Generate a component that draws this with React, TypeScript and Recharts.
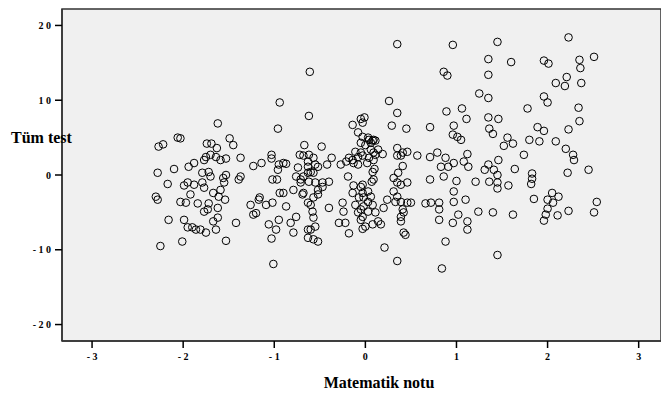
import { ScatterChart, Scatter, XAxis, YAxis, ReferenceArea } from "recharts"

// standardized scores: [matematik notu, tüm test]
const bandLow: [number, number][] = [
  [-2.27, 3.8], [-2.22, 4.1], [-2.06, 5.0], [-2.03, 4.9], [-1.62, 6.9], [-1.74, 4.2], [-1.69, 4.2],
  [-1.63, 3.6], [-1.49, 4.9], [-1.45, 4.0], [-1.75, 2.4], [-1.7, 2.7], [-1.64, 2.4], [-1.59, 2.0],
  [-1.53, 2.2], [-1.37, 2.3], [-1.77, 2.0], [-1.88, 1.6], [-1.94, 1.1], [-2.28, 0.3], [-2.1, 0.8],
  [-1.79, 0.3], [-1.72, 0.4], [-1.7, -0.2], [-1.53, 0.0], [-1.56, -0.4], [-1.55, -1.0], [-1.37, -0.2],
  [-1.39, -0.6], [-2.17, -1.2], [-1.99, -1.4], [-1.88, -1.3], [-1.79, -1.0], [-1.77, -1.7], [-1.59, -2.0],
  [-1.95, -1.0], [-2.3, -2.9], [-2.28, -3.3], [-2.03, -3.6], [-1.97, -3.7], [-1.92, -2.6], [-1.84, -3.8],
  [-1.72, -3.8], [-1.67, -2.4], [-1.61, -2.9], [-1.54, -3.3], [-1.77, -4.9], [-1.73, -4.6], [-1.62, -4.4],
  [-1.62, -5.7], [-1.67, -6.2], [-1.64, -7.3], [-2.16, -6.0], [-1.99, -6.0], [-1.95, -7.0], [-1.9, -7.0],
  [-1.86, -7.3], [-1.81, -7.3], [-1.75, -7.7], [-1.53, -8.8], [-1.42, -6.4], [-2.25, -9.5], [-2.01, -8.9],
  [-1.26, -4.0], [-1.2, -5.1], [-1.17, -3.3],
]

const bandMidLow: [number, number][] = [
  [-0.94, 9.7], [-0.62, 7.9], [-0.61, 13.8], [-0.96, 6.2], [-0.67, 4.0], [-0.48, 3.8], [-1.23, 1.2],
  [-1.14, 1.6], [-1.03, 2.7], [-1.03, 2.2], [-0.95, 1.4], [-0.9, 1.6], [-0.87, 1.5], [-0.96, 0.7],
  [-0.97, -0.6], [-1.02, -0.6], [-0.72, 2.7], [-0.62, 2.7], [-0.57, 2.3], [-0.63, 1.8], [-0.55, 1.4],
  [-0.63, 1.1], [-0.74, 1.0], [-0.71, -0.6], [-0.63, 0.3], [-0.6, 0.4], [-0.52, 1.1], [-0.76, -0.2],
  [-0.71, -1.0], [-0.62, -0.9], [-0.55, -1.0], [-0.47, -1.0], [-0.4, -0.9], [-0.52, -2.0], [-0.57, -3.0],
  [-0.79, -2.0], [-0.68, -2.4], [-0.94, -2.4], [-0.9, -2.4], [-1.16, -3.0], [-1.09, -4.0], [-1.02, -3.7],
  [-1.23, -5.3], [-0.87, -4.2], [-0.76, -5.6], [-0.82, -6.4], [-0.79, -7.7], [-0.95, -6.0], [-1.06, -6.6],
  [-1.03, -8.5], [-0.98, -7.3], [-0.63, -7.3], [-0.63, -8.4], [-0.69, -2.6], [-0.63, -3.7], [-0.6, -4.0],
  [-0.58, -4.9], [-0.57, -5.7], [-0.55, -6.9], [-0.6, -7.3], [-0.57, -8.6], [-0.52, -8.9], [-1.01, -11.9],
]

const bandMid: [number, number][] = [
  [-0.37, 2.3], [-0.42, 1.4], [-0.68, 2.6], [-0.57, 0.3], [-0.68, -0.2], [-0.47, -1.6], [-0.52, -2.6],
  [-0.27, 1.4], [-0.21, 1.8], [-0.18, 2.3], [-0.14, 2.0], [-0.13, 1.6], [-0.08, 2.4], [-0.05, 3.0],
  [-0.08, 1.4], [-0.11, 3.1], [0.0, 4.0], [0.04, 4.7], [0.06, 4.3], [0.09, 4.7], [-0.03, 5.1],
  [0.03, 5.0], [0.08, 4.6], [0.11, 4.6], [-0.05, 4.3], [-0.14, 6.7], [-0.05, 7.5], [-0.01, 7.7],
  [-0.03, 7.0], [-0.08, 5.7], [0.14, 3.4], [0.19, 2.8], [0.09, 3.0], [0.09, 2.0], [0.02, 1.6],
  [0.04, 2.3], [0.11, 2.7], [-0.03, 2.6], [-0.19, -0.2], [0.08, 0.4], [0.09, -0.6], [0.1, 0.8],
  [0.07, -0.9], [-0.4, -4.4], [-0.25, -3.7], [-0.24, -4.9], [-0.29, -6.4], [-0.22, -6.4], [-0.18, -7.8],
  [-0.13, -1.4], [-0.05, -1.6], [-0.03, -2.4], [-0.07, -3.0], [-0.02, -3.0], [0.03, -3.6], [0.08, -4.0],
  [-0.11, -4.0], [-0.14, -2.4], [-0.05, -4.6], [0.03, -4.9], [-0.08, -5.0], [-0.03, -5.6], [-0.03, -7.2],
  [0.0, -6.9], [0.08, -6.6], [0.11, -5.0], [0.14, -6.2], [-0.05, -6.0], [-0.03, -1.3], [0.03, -2.2],
  [-0.02, -4.2], [0.06, -2.9], [0.06, 3.4],
]

const bandMidHigh: [number, number][] = [
  [0.35, 17.5], [0.26, 9.9], [0.35, 8.3], [0.29, 6.6], [0.45, 6.2], [0.71, 6.4], [0.35, 3.6],
  [0.35, 2.6], [0.39, 2.6], [0.41, 3.0], [0.46, 3.1], [0.57, 2.6], [0.71, 2.4], [0.79, 3.0],
  [0.41, 1.2], [0.36, 0.3], [0.31, -0.4], [0.35, -1.0], [0.39, -1.3], [0.46, -1.0], [0.31, -2.2],
  [0.35, -2.9], [0.71, -0.6], [0.24, -3.3], [0.39, -3.6], [0.46, -3.7], [0.5, -3.7], [0.2, -4.4],
  [0.33, -3.6], [0.41, -4.6], [0.39, -5.6], [0.39, -6.2], [0.42, -5.0], [0.42, -7.7], [0.44, -8.0],
  [0.17, -6.6], [0.66, -3.8], [0.72, -3.7], [0.81, -3.7], [0.81, -4.6], [0.81, -6.0], [0.21, -9.7],
  [0.35, -11.5], [0.84, -12.5],
]

const bandHigh: [number, number][] = [
  [0.96, 17.4], [0.86, 13.8], [0.9, 13.3], [0.89, 8.5], [1.06, 8.9], [1.11, 7.5], [0.97, 6.6],
  [0.96, 5.4], [1.01, 5.1], [1.05, 4.7], [0.88, 2.3], [0.83, 1.1], [0.91, 1.1], [0.97, 1.6],
  [1.08, 1.8], [1.13, 1.1], [1.12, 2.8], [0.86, -0.2], [1.0, -0.8], [0.97, -2.2], [0.97, -3.6],
  [1.1, -3.3], [1.21, -0.9], [0.96, -6.4], [1.02, -5.3], [1.12, -6.2], [1.12, -7.3], [0.88, -8.9],
  [1.24, -4.9], [1.4, -5.0], [1.62, -5.3], [1.45, 17.8], [1.35, 15.5], [1.6, 15.1], [1.35, 13.4],
  [1.25, 10.9], [1.35, 10.3], [1.35, 7.7], [1.46, 7.5], [1.36, 6.2], [1.4, 5.5], [1.56, 5.0],
  [1.52, 3.9], [1.62, 4.2], [1.46, 2.0], [1.35, 1.4], [1.31, 0.7], [1.41, 0.7], [1.45, 0.0],
  [1.64, 0.8], [1.36, -0.9], [1.45, -1.0], [1.45, -1.8], [1.57, -1.4], [1.45, -10.7],
]

const bandTop: [number, number][] = [
  [2.23, 18.4], [1.96, 15.3], [2.01, 14.9], [2.35, 15.4], [2.51, 15.8], [2.36, 14.3], [2.21, 13.1],
  [2.09, 12.3], [2.19, 11.9], [2.37, 12.3], [1.96, 10.5], [2.0, 9.7], [1.78, 8.9], [2.34, 9.0],
  [2.35, 7.2], [1.89, 6.4], [1.96, 5.9], [2.23, 6.1], [1.8, 4.7], [1.91, 4.5], [2.09, 4.5],
  [2.2, 3.5], [2.28, 2.7], [2.29, 2.0], [1.74, 2.7], [1.83, 0.2], [1.83, -0.5], [1.82, -1.2],
  [2.22, 0.3], [2.45, 0.7], [1.85, -3.2], [2.05, -2.4], [2.12, -2.9], [2.0, -3.3], [2.06, -3.7],
  [2.0, -4.5], [1.98, -5.3], [1.96, -6.1], [2.11, -5.4], [2.23, -4.8], [2.54, -3.6], [2.51, -5.0],
]

const xTicks = [-3, -2, -1, 0, 1, 2, 3]
const yTicks = [-20, -10, 0, 10, 20]
const xDomain: [number, number] = [-3.33, 3.245]
const yDomain: [number, number] = [-22.2, 22.2]

const points = [...bandLow, ...bandMidLow, ...bandMid, ...bandMidHigh, ...bandHigh, ...bandTop].map(
  ([x, y]) => ({ x, y })
)

const serif = "'Liberation Serif', 'Times New Roman', serif"
const tickStyle = { fontSize: 10, fontWeight: 700, fontFamily: serif, fill: "#000" }
const spaced = (v: number) => String(v).split("").join(" ")

const Ring = (props: any) => (
  <circle cx={props.cx} cy={props.cy} r={3.8} fill="none" stroke="#000" strokeWidth={1} />
)

export default function App() {
  return (
    <div style={{ position: "fixed", left: 0, top: 0, width: 661, height: 397, background: "#fff" }}>
      <ScatterChart width={661} height={397} margin={{ top: 9, right: 0, bottom: 0, left: 0 }}>
        <ReferenceArea
          x1={xDomain[0]}
          x2={xDomain[1]}
          y1={yDomain[0]}
          y2={yDomain[1]}
          fill="#f0f0f0"
          fillOpacity={1}
          stroke="#333"
          strokeWidth={1.5}
        />
        <XAxis
          type="number"
          dataKey="x"
          domain={xDomain}
          ticks={xTicks}
          allowDataOverflow
          height={56}
          tickSize={7}
          tickMargin={5}
          tickFormatter={spaced}
          tick={tickStyle}
          axisLine={{ stroke: "#333", strokeWidth: 1.5 }}
          tickLine={{ stroke: "#000", strokeWidth: 1.5 }}
          label={(p: any) => (
            <text
              x={p.viewBox.x + 317}
              y={p.viewBox.y + 47}
              textAnchor="middle"
              fontFamily={serif}
              fontWeight={700}
              fontSize={16}
              fill="#000"
            >
              Matematik notu
            </text>
          )}
        />
        <YAxis
          type="number"
          dataKey="y"
          domain={yDomain}
          ticks={yTicks}
          allowDataOverflow
          width={62}
          tickSize={7}
          tickMargin={4}
          tickFormatter={spaced}
          tick={tickStyle}
          axisLine={{ stroke: "#333", strokeWidth: 1.5 }}
          tickLine={{ stroke: "#000", strokeWidth: 1.5 }}
          label={(p: any) => (
            <text
              x={11}
              y={p.viewBox.y + 134}
              fontFamily={serif}
              fontWeight={700}
              fontSize={16}
              fill="#000"
            >
              Tüm test
            </text>
          )}
        />
        <Scatter data={points} shape={Ring} isAnimationActive={false} />
      </ScatterChart>
    </div>
  )
}
